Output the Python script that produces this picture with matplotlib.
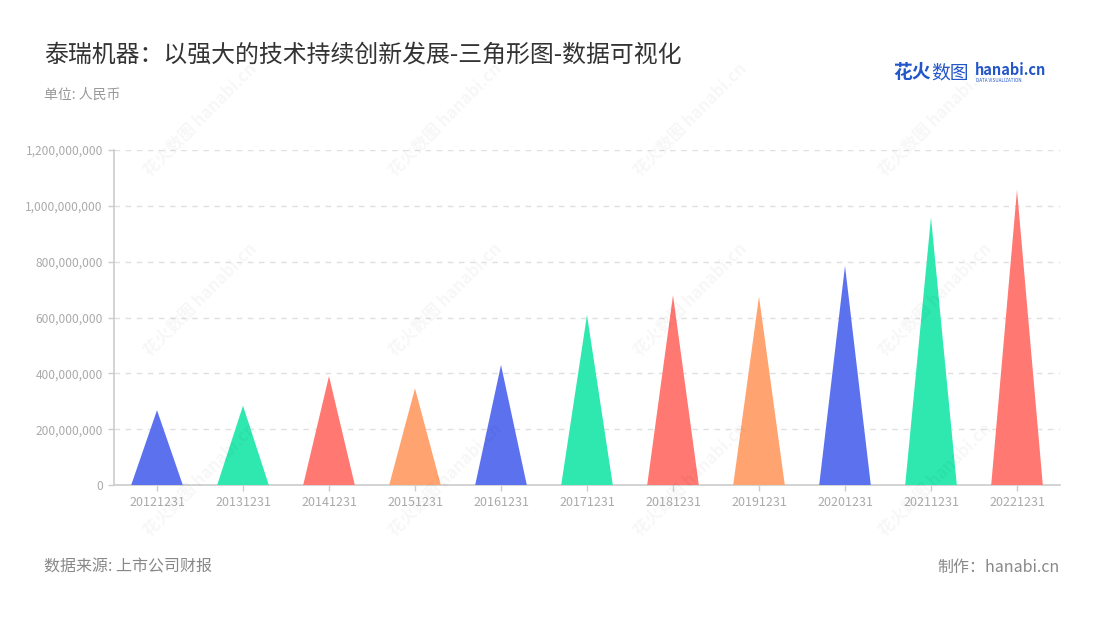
import matplotlib
matplotlib.use("Agg")
import matplotlib.pyplot as plt
from matplotlib.ticker import FuncFormatter, MultipleLocator

plt.rcParams['font.family'] = ['Noto Sans CJK SC', 'DejaVu Sans']

categories = ['20121231', '20131231', '20141231', '20151231', '20161231', '20171231',
              '20181231', '20191231', '20201231', '20211231', '20221231']
values = [268e6, 284e6, 390e6, 346e6, 430e6, 609e6, 680e6, 675e6, 785e6, 959e6, 1057e6]
palette = ['#5B71EE', '#2EE8B0', '#FF7872', '#FFA470']

title = '泰瑞机器：以强大的技术持续创新发展-三角形图-数据可视化'
subtitle = '单位: 人民币'
source = '数据来源: 上市公司财报'
maker = '制作：hanabi.cn'

fig = plt.figure(figsize=(11, 6.2), dpi=100)
ax = fig.add_axes([114/1100, 1-485/620, 946/1100, 335/620])

half = 0.3
for i, (c, v) in enumerate(zip(categories, values)):
    ax.fill([i - half, i, i + half], [0, v, 0], color=palette[i % 4], lw=0, zorder=3)

ax.set_xlim(-0.5, len(categories) - 0.5)
ax.set_ylim(0, 1.2e9)
ax.yaxis.set_major_locator(MultipleLocator(2e8))
ax.yaxis.set_major_formatter(FuncFormatter(lambda v, p: f'{v:,.0f}'))
ax.set_xticks(range(len(categories)))
ax.set_xticklabels(categories)
ax.grid(axis='y', color='#E0E0E0', linestyle=(0, (4, 4)), lw=1, zorder=0)
for s in ['top', 'right']:
    ax.spines[s].set_visible(False)
for s in ['left', 'bottom']:
    ax.spines[s].set_color('#CCCCCC')
    ax.spines[s].set_linewidth(1.2)
ax.tick_params(axis='both', colors='#CCCCCC', labelcolor='#AAAAAA', length=4, width=1)
ax.tick_params(axis='x', pad=4, labelsize=9)
ax.tick_params(axis='y', pad=4, labelsize=8.6)

# watermarks
for wx in [140, 385, 630, 875]:
    for wy in [180, 360, 540]:
        fig.text(wx/1100, 1-wy/620, '花火数图 hanabi.cn', rotation=45, fontsize=12,
                 color='#000000', alpha=0.035, ha='left', va='bottom', fontweight='bold', zorder=0)

fig.text(44/1100, 1-55/620, title, fontsize=17.2, color='#333333', va='center', ha='left')
fig.text(44/1100, 1-95/620, subtitle, fontsize=10, color='#999999', va='center', ha='left')
fig.text(44/1100, 1-567/620, source, fontsize=11.5, color='#888888', va='center', ha='left')
fig.text(1060/1100, 1-567/620, maker, fontsize=11.5, color='#888888', va='center', ha='right')

# logo
fig.text(893/1100, 1-73/620, '花火', fontsize=13.5, color='#2356C8', va='center', ha='left', fontweight='bold')
fig.text(931/1100, 1-73/620, '数图', fontsize=13.5, color='#2356C8', va='center', ha='left')
fig.text(975/1100, 1-70/620, 'hanabi.cn', fontsize=10.5, color='#2356C8', va='center', ha='left', fontweight='bold')
fig.text(976/1100, 1-80/620, 'DATA VISUALIZATION', fontsize=3.3, color='#2356C8', va='center', ha='left')

fig.savefig('out.png', dpi=100)
